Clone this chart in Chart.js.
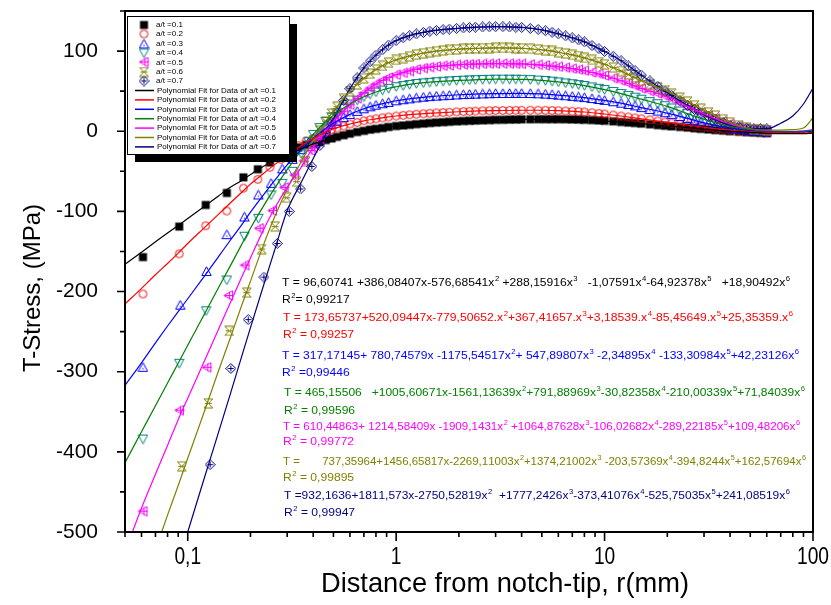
<!DOCTYPE html>
<html><head><meta charset="utf-8">
<script src="https://cdn.jsdelivr.net/npm/chart.js@4.4.1/dist/chart.umd.min.js"></script>
<style>html,body{margin:0;padding:0;background:#fff}canvas{display:block}</style>
</head><body>
<canvas id="c" width="831" height="605"></canvas>
<script>
// ---------- DATA ----------
const seriesLabels = ['0.1','0.2','0.3','0.4','0.5','0.6','0.7'];

// sparse measured points near the notch tip (r in mm, T in MPa)
const lowR1 = [0.061,0.091,0.122,0.154,0.185,0.217,0.248,0.28,0.31,0.34,0.37];
const lowT1 = [-157,-119,-92,-77,-57.5,-47.5,-39,-31,-25,-20,-17];
const lowR2 = [0.061,0.091,0.122,0.154,0.185,0.217,0.248,0.28,0.31,0.34,0.37];
const lowT2 = [-203,-153,-118,-99.5,-71,-60,-45,-35,-26,-18,-12];
const lowR3 = [0.061,0.092,0.123,0.154,0.187,0.218,0.251,0.284,0.318,0.35,0.38];
const lowT3 = [-294.5,-217,-175,-129,-107,-79.5,-65,-47,-35,-23,-14];
const lowR4 = [0.061,0.091,0.1225,0.154,0.187,0.218,0.251,0.284,0.318,0.35,0.38];
const lowT4 = [-384,-289.5,-224,-185.6,-131,-108.6,-79.5,-65,-50,-28,-13];
const lowR5 = [0.061,0.0912,0.1235,0.157,0.188,0.22,0.255,0.29,0.325,0.36,0.39];
const lowT5 = [-474,-348,-294.5,-205,-167,-121,-99,-70,-54.6,-37,-24];
const lowR6 = [0.0936,0.1256,0.158,0.192,0.2265,0.2625,0.2985,0.333,0.368];
const lowT6 = [-418,-339.5,-249,-201.4,-147,-119,-83,-63,-38];
const lowR7 = [0.128,0.161,0.195,0.232,0.269,0.307,0.348,0.394];
const lowT7 = [-416,-296,-235,-182,-140,-100,-72,-44];

// dense measured points further from the tip
const denseR = [0.40,0.43,0.46,0.49,0.52,0.56,0.60,0.65,0.70,0.75,0.80,0.86,0.92,1.0,1.08,1.16,1.25,1.35,1.45,1.56,1.68,1.8,1.95,2.1,2.25,2.4,2.6,2.8,3.0,3.25,3.5,3.75,4.0,4.4,4.8,5.2,5.6,6.0,6.5,7.0,7.5,8.0,8.7,9.4,10,11,12,13,14,15,16.5,18,19.5,21,23,25,27,29,31.5,34,37,40,44,48,52,56,60];
const denseT1 = [-16,-13.5,-11,-9,-7,-5,-3,-1,0.5,2,3,4,5.3,6.5,7.3,8,8.8,9.5,10.2,10.8,11.3,11.8,12.3,12.7,13,13.3,13.6,13.9,14.2,14.3,14.5,14.6,14.8,14.9,15,15,15,15,14.9,14.7,14.5,14.3,13.9,13.4,13,12.3,11.5,10.8,10.2,9.5,8.6,7.6,6.8,6.1,5.3,4.5,3.7,2.9,2.2,1.4,0.7,0,-0.6,-1.2,-1.7,-2.1,-2.5];
const denseT2 = [-9,-5,-1,2,4,6.5,9,11,13,14.3,15.5,16.7,17.8,19,19.8,20.5,21.2,21.8,22.4,22.9,23.3,23.7,24.2,24.5,24.8,25.1,25.4,25.6,25.8,25.9,26,26.1,26.2,26.2,26.2,26.1,25.9,25.6,25.3,24.9,24.5,24,23.2,22.3,21.5,20.2,19,17.8,16.6,15.5,14.2,12.8,11.5,10.2,8.8,7.5,6.5,5.5,4.6,3.7,2.5,1.5,0.7,-0.1,-0.7,-1.1,-1.5];
const denseT3 = [-9,-2,4,8.5,12.5,17,21,24.8,28,30.5,32.5,34.3,36,38,39.3,40.4,41.6,42.5,43.2,43.8,44.3,44.8,45.3,45.7,46,46.3,46.6,46.8,47,47.1,47.1,47.2,47.2,47,46.7,46.3,45.7,45,44.3,43.5,42.8,42,40.8,39.6,38.5,36.8,35,33.3,31.7,29.5,27.2,25.1,23.1,21.1,18.4,16,13.7,11.5,9.4,7.7,5.7,4,2.6,1.3,0.2,-0.4,-1];
const denseT4 = [-4,4.5,12.2,18,23,28.7,34,38.8,43,46.2,49,51.4,53.5,55.5,57,58.4,59.5,60.4,61.1,61.8,62.4,62.8,63.3,63.7,64,64.3,64.6,64.8,65,65,65,64.9,64.8,64.4,63.8,63.3,62.5,61.5,60.3,59.3,58.2,57,55.3,53.6,52,49.5,47,44.8,42.5,40,37,34.3,31.8,29,25.3,22,19.1,16.3,13.5,11.1,8.3,6,4.4,2.8,1.6,0.8,0];
const denseT5 = [-20,-9.6,0.3,9,16.5,25,33,41,48,54,59,63.5,67,70.5,72.8,75,77.2,78.8,80,80.9,81.6,82.2,82.8,83.2,83.5,83.8,84,84.2,84.3,84.3,84.2,84.1,84,83.5,82.8,82.2,81.3,80.5,79.3,78.1,76.8,75.5,73.4,71.5,69.5,66.2,63,59.8,56.8,53.5,50,47,44,40.5,35.5,31,27,23.3,19.4,16.1,12.3,9,6.3,3.7,2.1,1.3,0.5];
const denseT6 = [-12,1,12.5,22,30.5,40.5,50,58.4,66,71.7,77,81.5,85.5,89,91.3,93.5,95.6,97.3,98.8,99.9,100.7,101.4,102.2,102.7,103,103.3,103.6,103.8,104,104,103.9,103.7,103.5,102.8,102,101.2,100.2,98.5,97,95.3,93.8,91.5,89.1,86.2,83.5,79.4,75,71,67.1,63,58.7,54.8,51.1,47.2,41.8,37,32.4,28.1,23.5,19.5,14.9,11,7.6,4.5,2.7,2.3,1.5];
const denseT7 = [null,-18,-3,10.5,23,38.6,53,66.6,79,87.3,95,101.5,107.5,113,116.6,119.2,121.5,123.2,124.8,125.8,126.7,127.4,128.3,128.9,129.4,129.8,130.1,130.3,130.5,130.5,130.1,129.8,129.5,128.3,127,125.4,123.5,121.5,119,116.5,114,111.5,106.9,102.9,99.5,93.5,88,81.5,75.6,70,62.8,56.1,50,44.5,38,32,27.2,22.7,18.3,14.9,10.9,7.5,5.6,3.9,2.9,3,3];

// polynomial fit curves
const fitR = [0.05,0.06,0.07,0.08,0.09,0.1,0.12,0.14,0.16,0.18,0.2,0.23,0.26,0.3,0.35,0.4,0.45,0.5,0.6,0.7,0.8,0.9,1,1.2,1.5,2,2.5,3,4,5,6,8,10,12,15,20,25,30,40,50,60,70,80,90,100];
const fitT1 = [-166,-151,-138,-127,-117.5,-109,-94,-81,-70,-62,-54,-44,-37,-29,-22,-16,-12,-8,-3,0.5,3,5,6.5,8.5,10.5,12.5,13.5,14.2,14.8,15,15,14.3,13,11.5,9.5,6.5,4.5,2.5,0,-1.5,-2.5,-3,-3,-3,-2.5];
const fitT2 = [-215.5,-196,-179,-165,-152,-140,-120.5,-104,-89.5,-77,-66,-53,-42,-30,-18,-9,-2,3,9,13,15.5,17.5,19,21,22.7,24.3,25.3,25.8,26.2,26.2,25.6,24,21.5,19,15.5,11,7.5,5,1.5,-0.5,-1.5,-2,-2,-2,-1.5];
const fitT3 = [-317,-289,-264,-243,-225,-209,-181,-157,-136,-118,-101,-80,-62,-42,-23,-9,2,10,21,28,32.5,35.5,38,41,43.5,45.5,46.5,47,47.2,46.5,45,42,38.5,35,29.5,22.5,16,10.5,4,0.5,-1,-1.5,-1.5,-1,0];
const fitT4 = [-413.5,-375,-342.5,-314,-289.5,-267,-228.5,-196,-168,-143,-121,-94,-72,-48,-24,-4,10,20,34,43,49,53,55.5,59,61.5,63.5,64.5,65,64.8,63.5,61.5,57,52,47,40,31,22,15,6,2,0,-0.5,-0.5,0,1];
const fitT5 = [-525,-470,-428,-392,-360,-333,-287,-248,-214,-184,-158,-124,-97,-70,-45,-20,-3,12,33,48,59,66,70.5,76.5,80.5,83,84,84.3,84,82.5,80.5,75.5,69.5,63,53.5,43,31,21.5,9,2.5,0.5,0,0,0.5,2];
const fitT6 = [-630,-571,-522,-479,-442,-408,-350,-300,-258,-220,-187,-143,-108,-72,-38,-12,9,25,50,66,77,84.5,89,95,99.5,102.5,103.5,104,103.5,101.5,98.5,91.5,83.5,75,63,50,37,26,11,3,1.5,1.5,2,4,17];
const fitT7 = [-755,-688,-631,-582,-539,-500,-433,-377,-328,-284,-245,-194,-150,-99,-64,-34,-8,15,53,79,95,106,113,120.5,125.5,128.5,130,130.5,129.5,126.5,121.5,111.5,99.5,88,70,48,32,20.5,7.5,3,3,10,19,34,54];

const xTickValues = [0.1,1,10,100];
const xTickLabels = ['0,1','1','10','100'];
const xMinorTicks = [0.05,0.06,0.07,0.08,0.09,0.2,0.3,0.4,0.5,0.6,0.7,0.8,0.9,2,3,4,5,6,7,8,9,20,30,40,50,60,70,80,90];
const yTickValues = [-500,-400,-300,-200,-100,0,100];
const yMinorTicks = [-450,-350,-250,-150,-50,50,150];

const eqTexts = [
 'T = 96,60741 +386,08407x-576,68541x^2 +288,15916x^3   -1,07591x^4-64,92378x^5   +18,90492x^6',
 'T = 173,65737+520,09447x-779,50652.x^2+367,41657.x^3+3,18539.x^4-85,45649.x^5+25,35359.x^6',
 'T = 317,17145+ 780,74579x -1175,54517x^2+ 547,89807x^3 -2,34895x^4 -133,30984x^5+42,23126x^6',
 'T = 465,15506   +1005,60671x-1561,13639x^2+791,88969x^3-30,82358x^4-210,00339x^5+71,84039x^6',
 'T = 610,44863+ 1214,58409x -1909,1431x^2 +1064,87628x^3-106,02682x^4-289,22185x^5+109,48206x^6',
 'T =       737,35964+1456,65817x-2269,11003x^2+1374,21002x^3 -203,57369x^4-394,8244x^5+162,57694x^6',
 'T =932,1636+1811,573x-2750,52819x^2  +1777,2426x^3-373,41076x^4-525,75035x^5+241,08519x^6'
];
const r2Texts = ['R^2= 0,99217','R^2 = 0,99257','R^2 =0,99446','R^2 = 0,99596','R^2 = 0,99772','R^2 = 0,99895','R^2 = 0,99947'];

// ---------- STYLE ----------
const markerColors = ['#000000','#ff0000','#0000ff','#008080','#ff00ff','#808000','#000080'];
const lineColors   = ['#000000','#ff0000','#0000ff','#008000','#ff00ff','#808000','#000080'];
const markerKinds  = ['square','circle','triUp','triDown','triLeft','bowtie','diamond'];
const eqColors     = ['#000000','#ff0000','#0000ff','#008000','#ff00ff','#808000','#000080'];
// [left x, equation baseline, R2 baseline, equation right end]
const eqPos = [[282,286,303,790],[283,321,338,793],[282,359,376,799],[284,396,414,805],[283,430,445,800],[283,465,481,806],[284,499,516,790]];

function makeMarker(kind, color){
  const s = 11, c = document.createElement('canvas');
  c.width = s; c.height = s;
  const g = c.getContext('2d');
  g.strokeStyle = color; g.fillStyle = color; g.lineWidth = 1;
  const m = s/2;
  g.beginPath();
  if (kind === 'square') { g.fillRect(1.5,1.5,8,8); }
  else if (kind === 'circle') { g.arc(m,m,3.9,0,Math.PI*2); g.stroke(); }
  else if (kind === 'triUp') { g.moveTo(m,0.8); g.lineTo(s-0.8,s-1.5); g.lineTo(0.8,s-1.5); g.closePath(); g.stroke(); g.fillRect(m-0.6,m+0.8,1.2,1.2); }
  else if (kind === 'triDown') { g.moveTo(0.8,1.5); g.lineTo(s-0.8,1.5); g.lineTo(m,s-0.8); g.closePath(); g.stroke(); }
  else if (kind === 'triLeft') { g.moveTo(0.8,m); g.lineTo(s-1.5,0.8); g.lineTo(s-1.5,s-0.8); g.closePath(); g.stroke();
     g.beginPath(); g.moveTo(1.5,m); g.lineTo(s-0.5,m); g.moveTo(m+1,1.5); g.lineTo(m+1,s-1.5); g.stroke(); }
  else if (kind === 'bowtie') { g.moveTo(1,1); g.lineTo(s-1,s-1); g.moveTo(s-1,1); g.lineTo(1,s-1);
     g.moveTo(1,1); g.lineTo(s-1,1); g.moveTo(1,s-1); g.lineTo(s-1,s-1); g.moveTo(2,m); g.lineTo(s-2,m); g.stroke(); }
  else if (kind === 'diamond') { g.moveTo(m,0.5); g.lineTo(s-0.5,m); g.lineTo(m,s-0.5); g.lineTo(0.5,m); g.closePath(); g.stroke();
     g.beginPath(); g.moveTo(m,2.5); g.lineTo(m,s-2.5); g.moveTo(2.5,m); g.lineTo(s-2.5,m); g.stroke(); }
  return c;
}
const markers = markerKinds.map((k,i)=>makeMarker(k, markerColors[i]));

const lowR = [lowR1,lowR2,lowR3,lowR4,lowR5,lowR6,lowR7];
const lowT = [lowT1,lowT2,lowT3,lowT4,lowT5,lowT6,lowT7];
const denseT = [denseT1,denseT2,denseT3,denseT4,denseT5,denseT6,denseT7];
const fitT = [fitT1,fitT2,fitT3,fitT4,fitT5,fitT6,fitT7];

const datasets = [];
for (let i=0;i<7;i++){
  const pts = lowR[i].map((r,k)=>({x:r,y:lowT[i][k]}))
    .concat(denseR.map((r,k)=>({x:r,y:denseT[i][k]})).filter(p=>p.y!==null));
  datasets.push({label:'a/t ='+seriesLabels[i], data:pts, showLine:false,
    pointStyle:markers[i], pointRadius:5, pointHoverRadius:5, order:10-i});
}
for (let i=0;i<7;i++){
  datasets.push({label:'Polynomial Fit for Data of a/t ='+seriesLabels[i],
    data: fitR.map((r,k)=>({x:r,y:fitT[i][k]})), showLine:true,
    borderColor:lineColors[i], borderWidth:1.2, pointRadius:0, pointHoverRadius:0,
    cubicInterpolationMode:'monotone', order:1});
}

const SANS = "Arial,'Liberation Sans',Helvetica,sans-serif";

function richWidth(ctx, text, size){
  let w = 0;
  for (let i=0;i<text.length;i++){
    const ch = text[i];
    if (ch === '^' && i+1 < text.length){
      ctx.font = Math.round(size*0.62)+'px '+SANS;
      w += ctx.measureText(text[i+1]).width + 0.5; i++;
    } else {
      ctx.font = size+'px '+SANS;
      w += ctx.measureText(ch).width;
    }
  }
  return w;
}
function drawRich(ctx, text, x, y, size, sx){
  ctx.save();
  ctx.translate(x, y); ctx.scale(sx, 1);
  let cx = 0;
  for (let i=0;i<text.length;i++){
    const ch = text[i];
    if (ch === '^' && i+1 < text.length){
      ctx.font = Math.round(size*0.62)+'px '+SANS;
      ctx.fillText(text[i+1], cx+0.5, -size*0.42);
      cx += ctx.measureText(text[i+1]).width + 0.5;
      i++;
    } else {
      ctx.font = size+'px '+SANS;
      ctx.fillText(ch, cx, 0);
      cx += ctx.measureText(ch).width;
    }
  }
  ctx.restore();
}
function narrowText(ctx, text, cx, cy, size, sx){
  ctx.save();
  ctx.font = size+'px '+SANS;
  ctx.translate(cx, cy); ctx.scale(sx, 1);
  ctx.textAlign = 'center'; ctx.textBaseline = 'middle';
  ctx.fillText(text, 0, 0);
  ctx.restore();
}

const deco = {
  id:'deco',
  afterDatasetsDraw(chart){
    const ctx = chart.ctx, a = chart.chartArea, xs = chart.scales.x, ys = chart.scales.y;
    ctx.save();
    // frame
    ctx.strokeStyle = '#000'; ctx.lineWidth = 2;
    ctx.strokeRect(a.left, a.top, a.right-a.left, a.bottom-a.top);
    // ticks
    ctx.lineWidth = 1.6; ctx.beginPath();
    yTickValues.forEach(v=>{ const p = ys.getPixelForValue(v); ctx.moveTo(a.left, p); ctx.lineTo(a.left-8, p); });
    yMinorTicks.forEach(v=>{ const p = ys.getPixelForValue(v); ctx.moveTo(a.left, p); ctx.lineTo(a.left-5, p); });
    xTickValues.forEach(v=>{ const p = xs.getPixelForValue(v); ctx.moveTo(p, a.bottom); ctx.lineTo(p, a.bottom+9); });
    xMinorTicks.forEach(v=>{ const p = xs.getPixelForValue(v); ctx.moveTo(p, a.bottom); ctx.lineTo(p, a.bottom+5); });
    ctx.stroke();

    // x tick labels (condensed)
    ctx.fillStyle = '#000';
    xTickValues.forEach((v,i)=>{ narrowText(ctx, xTickLabels[i], xs.getPixelForValue(v), a.bottom+25, 24, 0.8); });

    // legend box with shadow
    const L = {x:127, y:16, w:162, h:138};
    ctx.fillStyle = '#000'; ctx.fillRect(L.x+8, L.y+8, L.w, L.h);
    ctx.fillStyle = '#fff'; ctx.fillRect(L.x, L.y, L.w, L.h);
    ctx.strokeStyle = '#000'; ctx.lineWidth = 1; ctx.strokeRect(L.x+0.5, L.y+0.5, L.w, L.h);
    ctx.font = '8px '+SANS; ctx.textBaseline = 'middle'; ctx.textAlign = 'left';
    for (let i=0;i<7;i++){
      const yy = 24.7 + 9.4*i;
      ctx.drawImage(markers[i], 144-5.5, Math.round(yy)-5.5);
      ctx.fillStyle = '#000';
      ctx.fillText('a/t =' + seriesLabels[i], 156, yy);
    }
    for (let i=0;i<7;i++){
      const yy = 24.7 + 9.4*(7+i);
      ctx.strokeStyle = lineColors[i]; ctx.lineWidth = 1.5;
      ctx.beginPath(); ctx.moveTo(135, yy); ctx.lineTo(154, yy); ctx.stroke();
      ctx.fillStyle = '#000';
      ctx.fillText('Polynomial Fit for Data of a/t =' + seriesLabels[i], 157, yy);
    }

    // equations
    ctx.textBaseline = 'alphabetic'; ctx.textAlign = 'left';
    for (let i=0;i<7;i++){
      ctx.fillStyle = eqColors[i];
      const p = eqPos[i];
      const sx = (p[3]-p[0]) / richWidth(ctx, eqTexts[i], 11);
      drawRich(ctx, eqTexts[i], p[0], p[1], 11, sx);
      drawRich(ctx, r2Texts[i], p[0], p[2], 11, 1.1);
    }

    // axis titles
    ctx.fillStyle = '#000';
    ctx.font = '28px '+SANS;
    const xt = 'Distance from notch-tip, r(mm)';
    const tsx = 368 / ctx.measureText(xt).width;
    narrowText(ctx, xt, 505, 584, 28, tsx);
    ctx.save();
    ctx.translate(33, 288); ctx.rotate(-Math.PI/2);
    ctx.font = '24px '+SANS; ctx.textAlign = 'center'; ctx.textBaseline = 'middle';
    ctx.fillText('T-Stress, (MPa)', 0, 0);
    ctx.restore();
    ctx.restore();
  }
};

new Chart(document.getElementById('c'), {
  type:'scatter',
  data:{datasets},
  options:{
    responsive:false, animation:false, events:[],
    layout:{padding:{top:11,right:18,left:0,bottom:0}},
    plugins:{legend:{display:false}, tooltip:{enabled:false}},
    scales:{
      x:{type:'logarithmic', position:'bottom', min:0.05, max:100,
        grid:{display:false}, border:{display:false},
        afterBuildTicks:s=>{ s.ticks = xTickValues.map(v=>({value:v})); },
        afterFit:s=>{ s.height = 73; s.paddingLeft = 0; s.paddingRight = 0; },
        ticks:{display:false}
      },
      y:{type:'linear', min:-500, max:150,
        grid:{display:false}, border:{display:false},
        afterBuildTicks:s=>{ s.ticks = yTickValues.map(v=>({value:v})); },
        afterFit:s=>{ s.width = 125; s.paddingTop = 0; s.paddingBottom = 0; },
        ticks:{padding:19, color:'#000', font:{family:SANS, size:21},
          callback:(v)=>String(v)}
      }
    }
  },
  plugins:[deco]
});
</script>
</body></html>
